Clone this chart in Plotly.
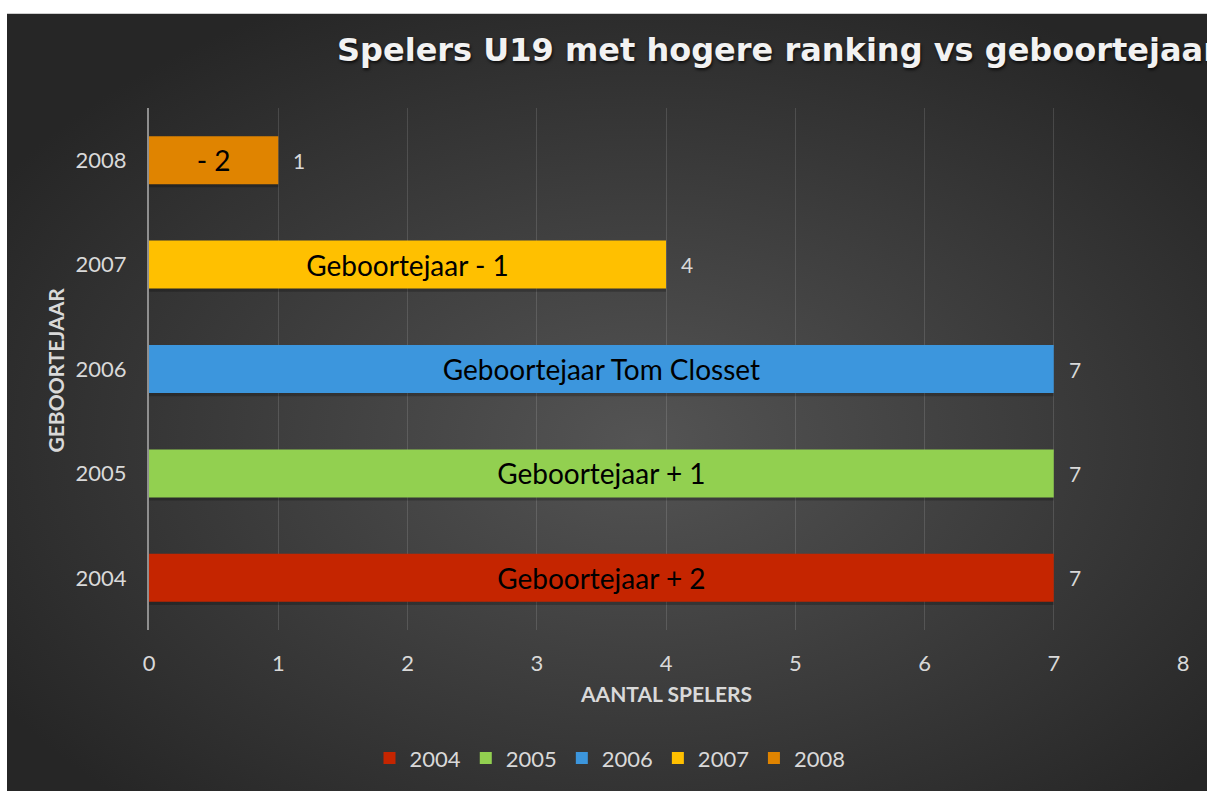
import base64
import plotly.graph_objects as go

# ---- data ----
years = ["2004", "2005", "2006", "2007", "2008"]
counts = [7, 7, 7, 4, 1]
bar_labels = ["Geboortejaar + 2", "Geboortejaar + 1", "Geboortejaar Tom Closset",
              "Geboortejaar - 1", "- 2"]
bar_colors = ["#C52500", "#92D050", "#3C96DD", "#FFC000", "#E08400"]
x_ticks = [0, 1, 2, 3, 4, 5, 6, 7, 8]

title_text = "Spelers U19 met hogere ranking vs geboortejaar"
x_title = "AANTAL SPELERS"
y_title = "GEBOORTEJAAR"

FONT = "Lato, 'Open Sans', sans-serif"
LIGHT = "#d9d9d9"

W, H = 1207, 791
ML, MR, MT, MB = 149, 24, 108, 158
PW, PH = W - ML - MR, H - MT - MB
BAR_W = 0.46


def px_to_paper_x(px):
    return (px - ML) / PW


def px_to_paper_y(py):
    return (H - MB - py) / PH


svg = (
    "<svg xmlns='http://www.w3.org/2000/svg' width='1200' height='800' "
    "preserveAspectRatio='none' viewBox='0 0 1200 800'>"
    "<defs><radialGradient id='g' cx='52%' cy='54%' r='62%' "
    "gradientUnits='objectBoundingBox'>"
    "<stop offset='0' stop-color='#545454'/>"
    "<stop offset='1' stop-color='#262626'/>"
    "</radialGradient></defs>"
    "<rect x='0' y='0' width='1200' height='800' fill='url(#g)'/></svg>"
)
bg_src = "data:image/svg+xml;base64," + base64.b64encode(svg.encode()).decode()

fig = go.Figure()
# soft drop shadows behind the bars
for yr, c in zip(years, counts):
    fig.add_trace(go.Bar(
        y=[yr], x=[c], orientation="h", showlegend=False,
        marker=dict(color="rgba(0,0,0,0.22)", line=dict(width=0)),
        width=BAR_W, offset=-BAR_W / 2 - 0.03,
        hoverinfo="skip",
    ))
for yr, c, lab, col in zip(years, counts, bar_labels, bar_colors):
    fig.add_trace(go.Bar(
        y=[yr], x=[c], orientation="h", name=yr,
        marker=dict(color=col, line=dict(width=0)),
        width=BAR_W,
        text=[lab], textposition="inside", insidetextanchor="middle",
        textangle=0, constraintext="none", cliponaxis=False,
        textfont=dict(family=FONT, size=28, color="#000000"),
        hoverinfo="skip",
    ))

annotations = []
for i, c in enumerate(counts):
    annotations.append(dict(
        x=c, y=i, xref="x", yref="y", text=str(c), showarrow=False,
        xanchor="left", yanchor="middle", xshift=13,
        font=dict(family=FONT, size=21, color=LIGHT),
    ))

annotations.append(dict(
    x=px_to_paper_x(335), y=px_to_paper_y(50), xref="paper", yref="paper",
    text="<b>" + title_text + "</b>", showarrow=False,
    xanchor="left", yanchor="middle",
    font=dict(family="DejaVu Sans, sans-serif", size=32, color="#f2f2f2",
              shadow="1px 2px 3px rgba(0,0,0,0.7)"),
))
annotations.append(dict(
    x=px_to_paper_x(666), y=px_to_paper_y(697), xref="paper", yref="paper",
    text="<b>" + x_title + "</b>", showarrow=False,
    xanchor="center", yanchor="middle",
    font=dict(family=FONT, size=21, color=LIGHT),
))
annotations.append(dict(
    x=px_to_paper_x(55), y=px_to_paper_y(372), xref="paper", yref="paper",
    text="<b>" + y_title + "</b>", showarrow=False, textangle=-90,
    xanchor="center", yanchor="middle",
    font=dict(family=FONT, size=21, color=LIGHT),
))

fig.update_layout(
    width=W, height=H,
    margin=dict(l=ML, r=MR, t=MT, b=MB, pad=0),
    paper_bgcolor="#ffffff",
    plot_bgcolor="rgba(0,0,0,0)",
    barmode="overlay",
    showlegend=True,
    legend=dict(
        orientation="h", x=px_to_paper_x(610), xanchor="center",
        y=px_to_paper_y(762), yanchor="middle",
        font=dict(family=FONT, size=22, color=LIGHT),
        bgcolor="rgba(0,0,0,0)", itemclick=False, itemdoubleclick=False,
        traceorder="normal",
    ),
    xaxis=dict(
        range=[0, 8], tickvals=x_ticks, showgrid=True,
        gridcolor="rgba(255,255,255,0.13)", gridwidth=1,
        zeroline=False, showline=False,
        ticks="outside", ticklen=14, tickcolor="rgba(0,0,0,0)",
        tickfont=dict(family=FONT, size=22, color=LIGHT),
        fixedrange=True,
    ),
    yaxis=dict(
        type="category", categoryorder="array", categoryarray=years,
        range=[-0.5, len(years) - 0.5], autorange=False,
        showgrid=False, zeroline=False,
        showline=True, linecolor="#8f8f8f", linewidth=2,
        ticks="outside", ticklen=16, tickcolor="rgba(0,0,0,0)",
        tickfont=dict(family=FONT, size=22, color=LIGHT),
        fixedrange=True,
    ),
    annotations=annotations,
    images=[dict(
        source=bg_src, xref="paper", yref="paper",
        x=px_to_paper_x(7), y=px_to_paper_y(13),
        sizex=px_to_paper_x(W + 20) - px_to_paper_x(7),
        sizey=px_to_paper_y(13) - px_to_paper_y(H + 20),
        xanchor="left", yanchor="top", sizing="stretch", layer="below",
    )],
)

fig.write_html(
    "out.html",
    config={"displayModeBar": False},
    post_script="document.body.style.margin='0px';"
                "document.body.style.overflow='hidden';",
)
